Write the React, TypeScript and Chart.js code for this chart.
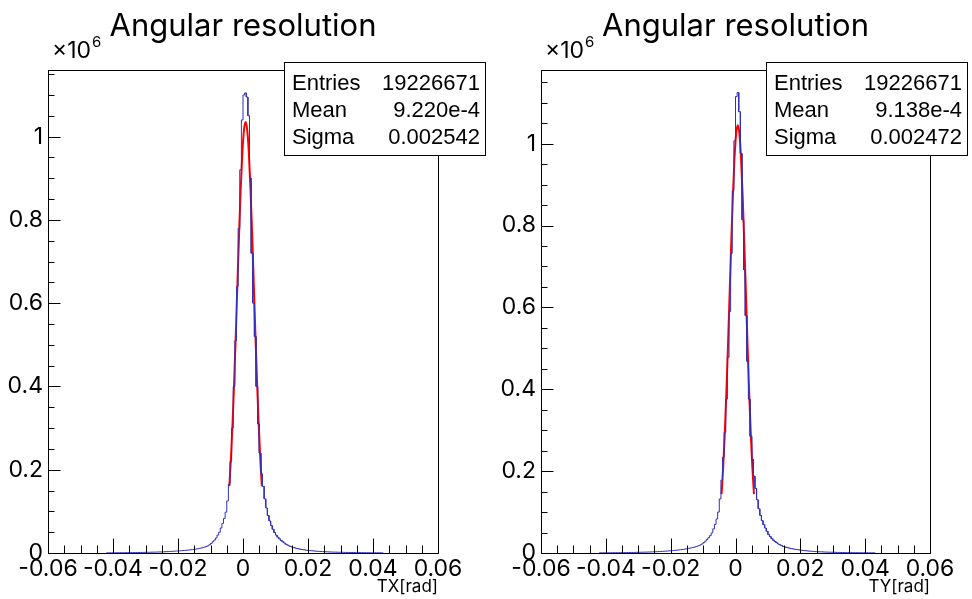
import React, { useEffect, useRef } from 'react';
import { Chart, registerables } from 'chart.js';

Chart.register(...registerables);

// ---- data (values in units of 10^6 entries) ----
const X_MIN = -0.06;
const X_MAX = 0.06;
const X_STEP = 0.02;
const X_MINOR = 0.005;
const Y_STEP = 0.2;
const Y_MINOR = 0.05;

const HIST_START = -0.042;
const BIN_WIDTH = 0.0005;

const TX_COUNTS = [
  0.0004, 0.0004, 0.0005, 0.0005, 0.0005, 0.0006, 0.0006, 0.0006, 0.0007, 0.0007, 0.0007, 0.0008, 0.0008, 0.0009,
  0.0009, 0.0010, 0.0010, 0.0011, 0.0011, 0.0012, 0.0013, 0.0013, 0.0014, 0.0015,
  0.0016, 0.0017, 0.0018, 0.0019, 0.0020, 0.0021, 0.0022, 0.0024, 0.0025, 0.0027,
  0.0028, 0.0030, 0.0032, 0.0034, 0.0036, 0.0038, 0.0040, 0.0043, 0.0046, 0.0049,
  0.0052, 0.0054, 0.0057, 0.0060, 0.0063, 0.0067, 0.0071, 0.0075, 0.0080, 0.0085,
  0.0090, 0.0097, 0.0104, 0.0112, 0.0121, 0.0131, 0.0142, 0.0155, 0.0172, 0.0198,
  0.023, 0.027, 0.031, 0.036, 0.043, 0.050, 0.060, 0.071, 0.083, 0.098,
  0.125, 0.165, 0.22, 0.30, 0.40, 0.51, 0.64, 0.78, 0.92, 1.04,
  1.10, 1.105, 1.095, 1.05, 0.90, 0.72, 0.60, 0.52, 0.40, 0.31,
  0.24, 0.19, 0.16, 0.13, 0.108, 0.09, 0.077, 0.066, 0.057, 0.049,
  0.043, 0.038, 0.034, 0.030, 0.027, 0.024, 0.021, 0.019, 0.017, 0.0155,
  0.014, 0.0128, 0.0117, 0.0107, 0.0098, 0.0090, 0.0083, 0.0077, 0.0071, 0.0066,
  0.0061, 0.0057, 0.0053, 0.0049, 0.0046, 0.0043, 0.0040, 0.0037, 0.0035, 0.0033,
  0.0031, 0.0029, 0.0027, 0.0025, 0.0024, 0.0022, 0.0021, 0.0020, 0.0019, 0.0018,
  0.0017, 0.0016, 0.0015, 0.0014, 0.0013, 0.0013, 0.0012, 0.0011, 0.0011, 0.0010,
  0.0010, 0.0009, 0.0009, 0.0008, 0.0008, 0.0007, 0.0007, 0.0007, 0.0006, 0.0006,
  0.0006, 0.0005, 0.0005, 0.0005, 0.0004, 0.0004,
];

const TY_COUNTS = [
  0.0004, 0.0004, 0.0005, 0.0005, 0.0005, 0.0006, 0.0006, 0.0007, 0.0007, 0.0007, 0.0008, 0.0008, 0.0009, 0.0009,
  0.0010, 0.0010, 0.0011, 0.0011, 0.0012, 0.0013, 0.0013, 0.0014, 0.0015, 0.0016,
  0.0017, 0.0018, 0.0019, 0.0020, 0.0021, 0.0022, 0.0024, 0.0025, 0.0027, 0.0029,
  0.0030, 0.0032, 0.0034, 0.0036, 0.0039, 0.0041, 0.0044, 0.0047, 0.0050, 0.0053,
  0.0056, 0.0060, 0.0064, 0.0068, 0.0072, 0.0077, 0.0082, 0.0087, 0.0093, 0.0100,
  0.0107, 0.0115, 0.0123, 0.0132, 0.0142, 0.0153, 0.0166, 0.0181, 0.0200, 0.0222,
  0.0255, 0.0290, 0.0330, 0.0375, 0.0425, 0.0490, 0.0590, 0.0700, 0.0830, 0.1000,
  0.132, 0.178, 0.234, 0.295, 0.376, 0.478, 0.59, 0.732, 0.885, 1.007,
  1.115, 1.125, 1.078, 0.976, 0.814, 0.692, 0.58, 0.468, 0.376, 0.285,
  0.229, 0.188, 0.158, 0.130, 0.108, 0.092, 0.079, 0.069, 0.061, 0.053,
  0.045, 0.040, 0.035, 0.031, 0.028, 0.025, 0.022, 0.020, 0.018, 0.016,
  0.0150, 0.0138, 0.0127, 0.0117, 0.0108, 0.0100, 0.0093, 0.0086, 0.0080, 0.0074,
  0.0069, 0.0064, 0.0059, 0.0055, 0.0051, 0.0047, 0.0044, 0.0041, 0.0038, 0.0035,
  0.0033, 0.0031, 0.0029, 0.0027, 0.0025, 0.0023, 0.0022, 0.0020, 0.0019, 0.0018,
  0.0017, 0.0016, 0.0015, 0.0014, 0.0013, 0.0012, 0.0012, 0.0011, 0.0010, 0.0010,
  0.0009, 0.0009, 0.0008, 0.0008, 0.0007, 0.0007, 0.0007, 0.0006, 0.0006, 0.0006,
  0.0005, 0.0005, 0.0005, 0.0004, 0.0004, 0.0004,
];

const FIT_STEP = 0.0005;
const TX_FIT_START = -0.0042;
const TX_FIT = [
  0.1607, 0.2288, 0.314, 0.4153, 0.5292, 0.6496, 0.7682, 0.8752, 0.9607, 1.0159, 1.035,
  1.0159, 0.9607, 0.8752, 0.7682, 0.6496, 0.5292, 0.4153, 0.314, 0.2288, 0.1607,
];
const TY_FIT_START = -0.0043;
const TY_FIT = [
  0.1438, 0.2095, 0.2935, 0.3954, 0.5116, 0.6364, 0.7607, 0.8742, 0.9653, 1.0245, 1.045,
  1.0245, 0.9653, 0.8742, 0.7607, 0.6364, 0.5116, 0.3954, 0.2935, 0.2095, 0.1438,
];

const TITLE = 'Angular resolution';
const STAT_LABELS = ['Entries', 'Mean', 'Sigma'];
const TX_STATS = ['19226671', '9.220e-4', '0.002542'];
const TY_STATS = ['19226671', '9.138e-4', '0.002472'];

const MAIN_FONT = 'Inter, "Liberation Sans", Arial, sans-serif';
const STAT_FONT = '"Liberation Sans", Arial, sans-serif';
const HIST_COLOR = '#3030bb';
const FIT_COLOR = '#ff0000';

type PanelCfg = {
  left: number;
  width: number;
  axisW: number;
  rightPad: number;
  yMax: number;
  counts: number[];
  fitStart: number;
  fit: number[];
  stats: string[];
  xTitle: string;
  box: { x1: number; x2: number; y1: number; y2: number };
};

const PANELS: PanelCfg[] = [
  {
    left: 0, width: 486, axisW: 48, rightPad: 48, yMax: 1.16,
    counts: TX_COUNTS, fitStart: TX_FIT_START, fit: TX_FIT, stats: TX_STATS, xTitle: 'TX[rad]',
    box: { x1: 284, x2: 485, y1: 62, y2: 155 },
  },
  {
    left: 486, width: 486, axisW: 55, rightPad: 42, yMax: 1.18,
    counts: TY_COUNTS, fitStart: TY_FIT_START, fit: TY_FIT, stats: TY_STATS, xTitle: 'TY[rad]',
    box: { x1: 280, x2: 481, y1: 62, y2: 155 },
  },
];

function buildHist(counts: number[]) {
  const pts: { x: number; y: number }[] = [{ x: HIST_START, y: 0 }];
  counts.forEach((c, i) => {
    const lo = HIST_START + i * BIN_WIDTH;
    pts.push({ x: lo, y: c }, { x: lo + BIN_WIDTH, y: c });
  });
  pts.push({ x: HIST_START + counts.length * BIN_WIDTH, y: 0 });
  return pts;
}

function buildFit(start: number, vals: number[]) {
  return vals.map((v, i) => ({ x: start + i * FIT_STEP, y: v }));
}

function decor(cfg: PanelCfg) {
  return {
    id: 'rootDecor',
    afterDraw(chart: any) {
      const ctx: CanvasRenderingContext2D = chart.ctx;
      const { left, right, top, bottom } = chart.chartArea;
      const xs = chart.scales.x;
      const ys = chart.scales.y;
      ctx.save();
      ctx.strokeStyle = '#000';
      ctx.lineWidth = 1;
      const L = Math.round(left) + 0.5;
      const R = Math.round(right) + 0.5;
      const T = Math.round(top) + 0.5;
      const B = Math.round(bottom) + 0.5;
      ctx.strokeRect(L, T, R - L, B - T);
      // x ticks (inside, bottom axis)
      const nx = Math.round((X_MAX - X_MIN) / X_MINOR);
      ctx.beginPath();
      for (let i = 0; i <= nx; i++) {
        const v = X_MIN + i * X_MINOR;
        const px = Math.round(xs.getPixelForValue(v)) + 0.5;
        const len = i % Math.round(X_STEP / X_MINOR) === 0 ? 15 : 8;
        ctx.moveTo(px, B);
        ctx.lineTo(px, B - len);
      }
      // y ticks (inside, left axis)
      const ny = Math.floor(cfg.yMax / Y_MINOR + 1e-9);
      for (let i = 0; i <= ny; i++) {
        const v = i * Y_MINOR;
        const py = Math.round(ys.getPixelForValue(v)) + 0.5;
        const len = i % Math.round(Y_STEP / Y_MINOR) === 0 ? 12 : 6;
        ctx.moveTo(L, py);
        ctx.lineTo(L + len, py);
      }
      ctx.stroke();

      // stats box
      const b = cfg.box;
      ctx.fillStyle = '#fff';
      ctx.fillRect(b.x1, b.y1, b.x2 - b.x1, b.y2 - b.y1);
      ctx.strokeRect(b.x1 + 0.5, b.y1 + 0.5, b.x2 - b.x1, b.y2 - b.y1);
      ctx.fillStyle = '#000';
      ctx.font = '22px ' + STAT_FONT;
      ctx.textBaseline = 'alphabetic';
      STAT_LABELS.forEach((lab, i) => {
        const y = b.y1 + 28 + i * 27;
        ctx.textAlign = 'left';
        ctx.fillText(lab, b.x1 + 8, y);
        ctx.textAlign = 'right';
        ctx.fillText(cfg.stats[i], b.x2 - 5, y);
      });

      // title
      ctx.font = '31px ' + MAIN_FONT;
      ctx.textAlign = 'center';
      ctx.fillText(TITLE, (left + right) / 2, 36);

      // x10^6
      ctx.textAlign = 'left';
      ctx.font = '23px ' + MAIN_FONT;
      const mult = '\u00d710';
      ctx.fillText(mult, left + 4, 58);
      const w = ctx.measureText(mult).width;
      ctx.font = '15px ' + MAIN_FONT;
      ctx.fillText('6', left + 4 + w + 1, 47);

      // x axis title
      ctx.font = '17px ' + MAIN_FONT;
      ctx.textAlign = 'right';
      ctx.fillText(cfg.xTitle, right, 592);
      ctx.restore();
    },
  };
}

function Panel({ cfg }: { cfg: PanelCfg }) {
  const ref = useRef<HTMLCanvasElement>(null);
  useEffect(() => {
    const chart = new Chart(ref.current as HTMLCanvasElement, {
      type: 'line',
      data: {
        datasets: [
          {
            data: buildHist(cfg.counts),
            borderColor: HIST_COLOR,
            borderWidth: 1,
            pointRadius: 0,
            fill: false,
            tension: 0,
          },
          {
            data: buildFit(cfg.fitStart, cfg.fit),
            borderColor: FIT_COLOR,
            borderWidth: 2,
            pointRadius: 0,
            fill: false,
            cubicInterpolationMode: 'monotone',
          },
        ],
      },
      options: {
        animation: false,
        responsive: false,
        devicePixelRatio: 1,
        events: [],
        layout: { padding: { top: 70, right: cfg.rightPad, left: 0, bottom: 0 } },
        plugins: { legend: { display: false }, tooltip: { enabled: false }, title: { display: false } },
        scales: {
          x: {
            type: 'linear',
            min: X_MIN,
            max: X_MAX,
            grid: { display: false, drawTicks: false },
            border: { display: false },
            afterFit: (s: any) => { s.height = 46; },
            ticks: {
              stepSize: X_STEP,
              autoSkip: false,
              maxRotation: 0,
              padding: 2,
              color: '#000',
              font: { family: MAIN_FONT, size: 23 },
              callback: (v: any) => String(Math.round(Number(v) * 100) / 100),
            },
          },
          y: {
            type: 'linear',
            min: 0,
            max: cfg.yMax,
            grid: { display: false, drawTicks: false },
            border: { display: false },
            afterFit: (s: any) => { s.width = cfg.axisW; },
            ticks: {
              stepSize: Y_STEP,
              includeBounds: false,
              autoSkip: false,
              padding: 5,
              color: '#000',
              font: { family: MAIN_FONT, size: 23 },
              callback: (v: any) => {
                const n = Number(v);
                const r = Math.round(n / Y_STEP) * Y_STEP;
                if (Math.abs(n - r) > 1e-6) return '';
                return String(Math.round(n * 10) / 10);
              },
            },
          },
        },
      } as any,
      plugins: [decor(cfg)],
    });
    return () => chart.destroy();
  }, []);
  return (
    <canvas
      ref={ref}
      width={cfg.width}
      height={599}
      style={{ position: 'absolute', left: cfg.left, top: 0, width: cfg.width, height: 599 }}
    />
  );
}

export default function App() {
  return (
    <div style={{ position: 'fixed', left: 0, top: 0, width: 972, height: 599, background: '#fff', overflow: 'hidden' }}>
      {PANELS.map((p, i) => (
        <Panel key={i} cfg={p} />
      ))}
    </div>
  );
}
